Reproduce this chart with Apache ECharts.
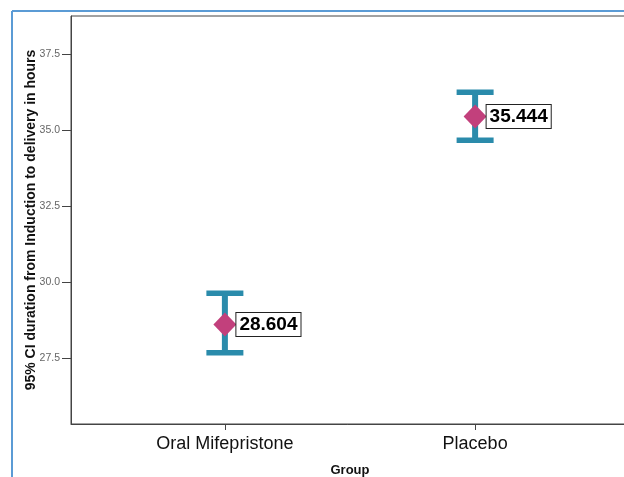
<!DOCTYPE html>
<html><head><meta charset="utf-8">
<script src="https://cdn.jsdelivr.net/npm/echarts@6/dist/echarts.min.js"></script>
<style>html,body{margin:0;padding:0;background:#fff}#c{width:624px;height:477px}</style>
</head><body><div id="c"></div>
<script>
const categories = ['Oral Mifepristone', 'Placebo'];
const means = [28.604, 35.444];
const lower = [27.67, 34.66];
const upper = [29.63, 36.24];
const yTicks = [27.5, 30.0, 32.5, 35.0, 37.5];
const xPos = categories.map((_, i) => i + 1);

const FONT = 'Liberation Sans, Arial, sans-serif';
const barColor = '#2a8bab';
const chart = echarts.init(document.getElementById('c'), null, {renderer: 'canvas'});
chart.setOption({
  animation: false,
  backgroundColor: '#fff',
  grid: {left: 71, top: 16, width: 558, bottom: 53, containLabel: false, outerBoundsMode: 'none',
    show: true, borderColor: '#444', borderWidth: 1, backgroundColor: 'transparent'},
  xAxis: {
    type: 'value', min: 0.385, max: 2.615,
    splitLine: {show: false},
    axisLine: {show: true, lineStyle: {color: '#444', width: 1}},
    axisTick: {show: true, customValues: xPos, length: 6, lineStyle: {color: '#444'}},
    axisLabel: {customValues: xPos, formatter: v => categories[Math.round(v) - 1] || '', fontSize: 18, color: '#111', margin: 11, fontFamily: FONT},
    name: 'Group', nameLocation: 'middle', nameGap: 40, nameMoveOverlap: false,
    nameTextStyle: {fontWeight: 'bold', fontSize: 13, color: '#111', fontFamily: FONT}
  },
  yAxis: {
    type: 'value', min: 25.33, max: 38.75,
    splitLine: {show: false},
    axisLine: {show: true, lineStyle: {color: '#444', width: 1}},
    axisTick: {show: true, customValues: yTicks, length: 9, lineStyle: {color: '#444'}},
    axisLabel: {customValues: yTicks, formatter: v => v.toFixed(1), fontSize: 10.5, color: '#666', margin: 11, fontFamily: FONT},
    name: '95% CI duration from Induction to delivery in hours', nameLocation: 'middle', nameGap: 33, nameMoveOverlap: false,
    nameTextStyle: {fontWeight: 'bold', fontSize: 14, color: '#111', fontFamily: FONT}
  },
  graphic: [
    {type: 'line', shape: {x1: 12, y1: 11, x2: 624, y2: 11}, style: {stroke: '#5b9bd5', lineWidth: 2}},
    {type: 'line', shape: {x1: 12, y1: 11, x2: 12, y2: 477}, style: {stroke: '#5b9bd5', lineWidth: 2}}
  ],
  series: [
    {
      type: 'custom',
      data: xPos.map((x, i) => [x, lower[i], upper[i]]),
      encode: {x: 0, y: [1, 2]},
      silent: true,
      renderItem(params, api) {
        const x = api.value(0), lo = api.value(1), hi = api.value(2);
        const pLo = api.coord([x, lo]), pHi = api.coord([x, hi]);
        const hw = 18.5;
        return {type: 'group', children: [
          {type: 'line', shape: {x1: pLo[0], y1: pLo[1], x2: pHi[0], y2: pHi[1]}, style: {stroke: barColor, lineWidth: 6}},
          {type: 'line', shape: {x1: pLo[0] - hw, y1: pLo[1], x2: pLo[0] + hw, y2: pLo[1]}, style: {stroke: barColor, lineWidth: 5.5}},
          {type: 'line', shape: {x1: pHi[0] - hw, y1: pHi[1], x2: pHi[0] + hw, y2: pHi[1]}, style: {stroke: barColor, lineWidth: 5.5}}
        ]};
      },
      z: 2
    },
    {
      type: 'scatter',
      data: xPos.map((x, i) => [x, means[i]]),
      symbol: 'diamond', symbolSize: [23, 24],
      itemStyle: {color: '#c2407c', opacity: 1},
      emphasis: {disabled: true},
      label: {
        show: true, position: 'right', distance: 0,
        formatter: p => p.value[1].toFixed(3),
        fontSize: 19, fontWeight: 'bold', color: '#000',
        fontFamily: FONT,
        backgroundColor: '#fff', borderColor: '#222', borderWidth: 1, padding: [3, 3, 1, 3]
      },
      z: 3
    }
  ]
});
</script></body></html>
